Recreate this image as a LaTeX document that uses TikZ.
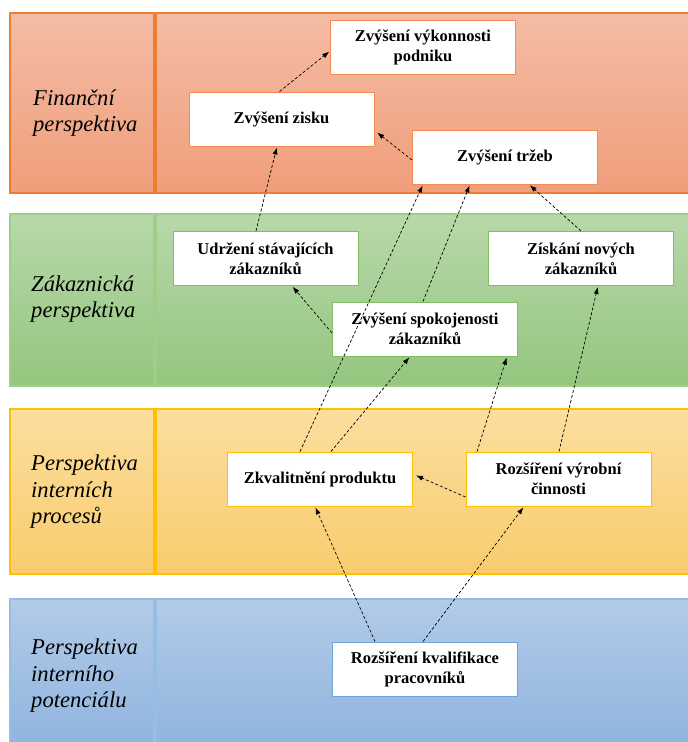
\documentclass[tikz,border=0pt]{standalone}
\usepackage{fontspec}
\setmainfont{Liberation Serif}
\usetikzlibrary{arrows.meta}

% band fills, band outlines and box outlines
\definecolor{fintop}{RGB}{244,188,165}
\definecolor{finbot}{RGB}{240,158,122}
\definecolor{finline}{RGB}{237,125,49}
\definecolor{finbox}{RGB}{242,140,80}
\definecolor{custop}{RGB}{184,216,170}
\definecolor{cusbot}{RGB}{148,198,126}
\definecolor{cusline}{RGB}{160,205,135}
\definecolor{cusbox}{RGB}{130,190,95}
\definecolor{inttop}{RGB}{252,222,158}
\definecolor{intbot}{RGB}{248,204,110}
\definecolor{intline}{RGB}{255,192,0}
\definecolor{intbox}{RGB}{255,192,0}
\definecolor{pottop}{RGB}{178,203,232}
\definecolor{potbot}{RGB}{141,178,222}
\definecolor{potline}{RGB}{150,190,228}
\definecolor{potbox}{RGB}{110,165,220}

\tikzset{
  goal/.style={draw, fill=white, line width=1pt, minimum width=185pt,
    minimum height=54pt, align=center, inner sep=2pt,
    font=\fontsize{16.5}{20}\selectfont\bfseries},
  persp/.style={anchor=west, align=left, inner sep=0pt,
    font=\fontsize{22.6}{26.5}\selectfont\itshape},
  link/.style={draw=black, line width=0.7pt, dash pattern=on 3pt off 2pt,
    -{Latex[length=7pt,width=5pt]}, shorten >=1pt}
}

\begin{document}
\begin{tikzpicture}[x=1pt, y=-1pt]
\useasboundingbox (0,0) rectangle (688,742);
\clip (0,0) rectangle (688,742);

% perspective bands: label column and main panel
\foreach \t/\b/\ct/\cb/\cl in {13/193/fintop/finbot/finline,
                               214/386/custop/cusbot/cusline,
                               409/574/inttop/intbot/intline,
                               599/760/pottop/potbot/potline}{
  \fill[top color=\ct, bottom color=\cb] (10,\t) rectangle (154,\b);
  \fill[top color=\ct, bottom color=\cb] (156,\t) rectangle (700,\b);
  \draw[\cl, line width=1.2pt] (10,\t) rectangle (154,\b);
  \draw[\cl, line width=1.2pt] (156,\t) rectangle (700,\b);
}

% perspective names
\node[persp] (lfin) at (33,113) {Finanční\\perspektiva};
\node[persp] (lcus) at (31,299) {Zákaznická\\perspektiva};
\node[persp] (lint) at (31,492) {Perspektiva\\interních\\procesů};
\node[persp] (lpot) at (31,676) {Perspektiva\\interního\\potenciálu};

% strategic goals
\node[goal, draw=finbox] (vyk)   at (423,47)    {Zvýšení výkonnosti\\podniku};
\node[goal, draw=finbox] (zisk)  at (281.5,119) {Zvýšení zisku};
\node[goal, draw=finbox] (trzeb) at (505,157)   {Zvýšení tržeb};
\node[goal, draw=cusbox] (udrz)  at (265.5,258.5) {Udržení stávajících\\zákazníků};
\node[goal, draw=cusbox] (novi)  at (581,258.5) {Získání nových\\zákazníků};
\node[goal, draw=cusbox] (spok)  at (425,329)   {Zvýšení spokojenosti\\zákazníků};
\node[goal, draw=intbox] (zkval) at (320,479)   {Zkvalitnění produktu};
\node[goal, draw=intbox] (rozs)  at (558.5,479) {Rozšíření výrobní\\činnosti};
\node[goal, draw=potbox] (kval)  at (425,669)   {Rozšíření kvalifikace\\pracovníků};

% cause and effect links
\draw[link] ([xshift=-2pt]zisk.north) -- ([yshift=-4pt]vyk.west);
\draw[link] ([yshift=-3pt]trzeb.west) -- ([xshift=2pt,yshift=-13pt]zisk.east);
\draw[link] ([xshift=-9.5pt]udrz.north) -- ([xshift=-4.5pt]zisk.south);
\draw[link] ([xshift=-20pt]zkval.north) -- ([xshift=-82pt]trzeb.south);
\draw[link] ([xshift=-2pt]spok.north) -- ([xshift=-35pt]trzeb.south);
\draw[link] (novi.north) -- ([xshift=24pt]trzeb.south);
\draw[link] ([yshift=-4pt]spok.west) -- ([xshift=26.5pt]udrz.south);
\draw[link] ([xshift=11pt]zkval.north) -- ([xshift=-15pt]spok.south);
\draw[link] ([xshift=-81.5pt]rozs.north) -- ([xshift=82pt]spok.south);
\draw[link] ([xshift=0.5pt]rozs.north) -- ([xshift=17pt]novi.south);
\draw[link] ([yshift=-18pt]rozs.west) -- ([xshift=2pt,yshift=4pt]zkval.east);
\draw[link] ([xshift=-50pt]kval.north) -- ([xshift=-5pt]zkval.south);
\draw[link] ([xshift=-2pt]kval.north) -- ([xshift=-34.5pt]rozs.south);
\end{tikzpicture}
\end{document}
